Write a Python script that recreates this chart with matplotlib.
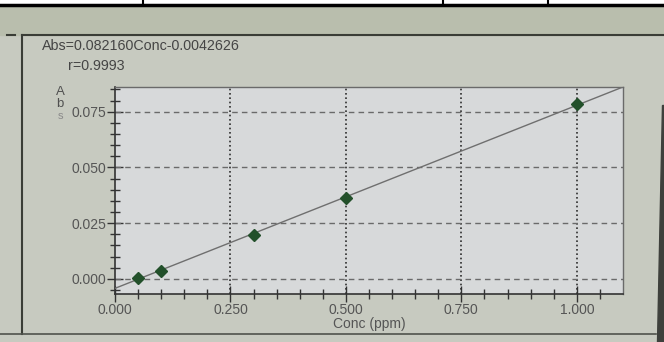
import matplotlib.pyplot as plt
from matplotlib.patches import Rectangle, Polygon
from matplotlib.lines import Line2D
import numpy as np

plt.rcParams['font.family'] = ['Liberation Sans', 'DejaVu Sans']

# calibration standards
conc = [0.05, 0.10, 0.30, 0.50, 1.00]
absorb = [0.0005, 0.0035, 0.0195, 0.0362, 0.0786]
slope = 0.082160
intercept = -0.0042626
r_value = 0.9993

x_ticks = [0.0, 0.25, 0.5, 0.75, 1.0]
x_labels = ["0.000", "0.250", "0.500", "0.750", "1.000"]
y_ticks = [0.0, 0.025, 0.05, 0.075]
y_labels = ["0.000", "0.025", "0.050", "0.075"]

W, H = 664, 342
fig = plt.figure(figsize=(W / 100, H / 100), dpi=100)
fig.patch.set_facecolor("#c7cac0")


def fx(x):
    return x / W


def fy(y):
    return 1 - y / H


def rect(x0, y0, x1, y1, color):
    fig.patches.append(Rectangle((fx(x0), fy(y1)), fx(x1 - x0), (y1 - y0) / H,
                                 transform=fig.transFigure, color=color, zorder=0))


def line(xs, ys, color="#333333", lw=1.0):
    fig.lines.append(Line2D([fx(v) for v in xs], [fy(v) for v in ys],
                            transform=fig.transFigure, color=color, lw=lw))


# photo surroundings: page band at top, screen frame, bezel
rect(0, 0, W, 5, "white")
rect(0, 5, W, 35, "#b9bead")
fig.patches.append(Polygon([(fx(662), fy(105)), (fx(W), fy(105)), (fx(W), fy(H)),
                            (fx(657), fy(H))], closed=True, transform=fig.transFigure,
                           color="#3e403c", zorder=0))
line([0, W], [5, 5], "black", 2.5)
for xv in [143, 443, 548]:
    line([xv, xv], [0, 5], "black", 1.5)
line([22, W], [35, 35], "#3a3d36", 1.5)
line([22, 22], [35, 334], "#3a3d36", 1.5)
line([7, 15], [35, 35], "#3a3d36", 1.5)
line([0, 656], [334, 334], "#50534c", 1.2)

ax = fig.add_axes([fx(115), fy(294), fx(623 - 115), (294 - 87) / H])
ax.set_facecolor("#d7d9da")

xs = np.array([0.0, 1.1])
ax.plot(xs, slope * xs + intercept, color="#6f6f6f", lw=1.0, zorder=3)
ax.plot(conc, absorb, linestyle="none", marker="D", markersize=6.5,
        color="#22502a", zorder=4)

ax.set_xlim(0, 1.1)
ax.set_ylim(-0.0068, 0.0861)
ax.set_xticks(x_ticks)
ax.set_xticklabels(x_labels)
ax.set_yticks(y_ticks)
ax.set_yticklabels(y_labels)
ax.set_xticks(np.arange(0, 1.1, 0.05), minor=True)
ax.set_yticks(np.arange(-0.005, 0.086, 0.005), minor=True)

for xv in x_ticks[1:]:
    ax.axvline(xv, color="#2e2e2e", lw=1.2, linestyle=(0, (1, 1.6)), zorder=2)
for yv in y_ticks:
    ax.axhline(yv, color="#6a6a6a", lw=1.0, linestyle=(0, (4, 3)), zorder=2)

ax.tick_params(axis="both", which="major", direction="inout", length=11,
               width=1.0, color="#333333", labelsize=10, labelcolor="#555555")
ax.tick_params(axis="both", which="minor", direction="inout", length=7,
               width=1.0, color="#333333")
ax.tick_params(axis="x", pad=1)
ax.tick_params(axis="y", pad=1)
for side in ["left", "bottom"]:
    ax.spines[side].set_color("#333333")
    ax.spines[side].set_linewidth(1.2)
for side in ["top", "right"]:
    ax.spines[side].set_color("#6a6a6a")
    ax.spines[side].set_linewidth(1.0)

ax.set_xlabel("Conc (ppm)", fontsize=10, color="#555555", labelpad=0)

fig.text(fx(42), fy(46), "Abs=%.6fConc%.7f" % (slope, intercept),
         fontsize=10.3, color="#454545", va="center", ha="left")
fig.text(fx(68), fy(66), "r=%.4f" % r_value,
         fontsize=10.3, color="#454545", va="center", ha="left")
fig.text(fx(60), fy(92), "A", fontsize=9.5, color="#505050", va="center", ha="center")
fig.text(fx(60), fy(104), "b", fontsize=9.5, color="#505050", va="center", ha="center")
fig.text(fx(60), fy(116), "s", fontsize=8, color="#8a8a8a", va="center", ha="center")

fig.savefig("out.png", dpi=100, facecolor=fig.get_facecolor())
